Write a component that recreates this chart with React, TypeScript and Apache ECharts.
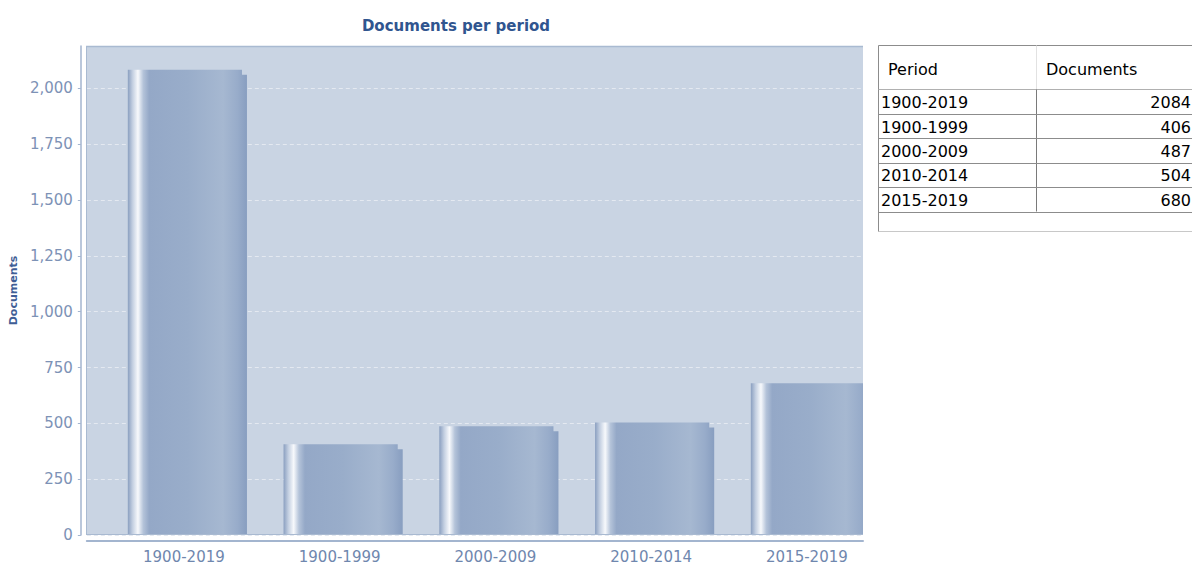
import React, { useEffect, useRef } from "react";
import * as echarts from "echarts";

const categories = ["1900-2019", "1900-1999", "2000-2009", "2010-2014", "2015-2019"];
const documents = [2084, 406, 487, 504, 680];
const tableHeader = ["Period", "Documents"];
const yMax = 2190;
const yInterval = 250;

const PLOT_LEFT = 86;
const PLOT_TOP = 46;
const PLOT_W = 777;
const PLOT_H = 489;
const PLOT_RIGHT = PLOT_LEFT + PLOT_W;

const FONT = "DejaVu Sans";

function buildTable(): any[] {
  const left = 878.5;
  const top = 45.5;
  const col2 = 1036.5;
  const headerH = 44;
  const rowH = 24.4;
  const right = 1200;
  const els: any[] = [];
  const bodyTop = top + headerH;
  const bodyBottom = bodyTop + rowH * categories.length;
  const tableBottom = bodyBottom + 20;
  els.push({
    type: "rect",
    shape: { x: left, y: top, width: right - left, height: tableBottom - top },
    style: { fill: "#ffffff", stroke: "#8c8c8c", lineWidth: 1 },
  });
  els.push({
    type: "line",
    shape: { x1: col2, y1: top, x2: col2, y2: bodyTop },
    style: { stroke: "#e2e2e2", lineWidth: 1 },
  });
  els.push({
    type: "line",
    shape: { x1: left, y1: bodyTop, x2: right, y2: bodyTop },
    style: { stroke: "#b0b0b0", lineWidth: 1 },
  });
  els.push({
    type: "line",
    shape: { x1: col2, y1: bodyTop, x2: col2, y2: bodyBottom },
    style: { stroke: "#7a7a7a", lineWidth: 1 },
  });
  categories.forEach((c, i) => {
    const y1 = bodyTop + rowH * (i + 1);
    els.push({
      type: "line",
      shape: { x1: left, y1: Math.round(y1) + 0.5, x2: right, y2: Math.round(y1) + 0.5 },
      style: { stroke: "#8c8c8c", lineWidth: 1 },
    });
    const cy = bodyTop + rowH * (i + 0.5) + 1;
    els.push({
      type: "text",
      x: 881,
      y: cy,
      style: { text: c, fill: "#000", font: `16px '${FONT}'`, align: "left", verticalAlign: "middle" },
    });
    els.push({
      type: "text",
      x: 1191,
      y: cy,
      style: { text: String(documents[i]), fill: "#000", font: `16px '${FONT}'`, align: "right", verticalAlign: "middle" },
    });
  });
  els.push({
    type: "line",
    shape: { x1: left, y1: tableBottom, x2: right, y2: tableBottom },
    style: { stroke: "#c8c8c8", lineWidth: 1 },
  });
  els.push({
    type: "text",
    x: 888,
    y: top + headerH / 2 + 2,
    style: { text: tableHeader[0], fill: "#000", font: `16px '${FONT}'`, align: "left", verticalAlign: "middle" },
  });
  els.push({
    type: "text",
    x: 1046,
    y: top + headerH / 2 + 2,
    style: { text: tableHeader[1], fill: "#000", font: `16px '${FONT}'`, align: "left", verticalAlign: "middle" },
  });
  return els;
}

function plotBorders(): any[] {
  const c = "#a9bad1";
  const t = PLOT_TOP + 0.5;
  const b = PLOT_TOP + PLOT_H - 0.5;
  const l = PLOT_LEFT + 0.5;
  return [
    { type: "line", z: 50, shape: { x1: PLOT_LEFT, y1: t, x2: PLOT_RIGHT, y2: t }, style: { stroke: c, lineWidth: 1.5 } },
    { type: "line", z: 50, shape: { x1: l, y1: PLOT_TOP, x2: l, y2: PLOT_TOP + PLOT_H }, style: { stroke: c, lineWidth: 1 } },
    { type: "line", z: 50, shape: { x1: PLOT_LEFT, y1: b, x2: PLOT_RIGHT, y2: b }, style: { stroke: c, lineWidth: 1 } },
  ];
}

export default function App() {
  const ref = useRef<HTMLDivElement>(null);
  useEffect(() => {
    document.body.style.margin = "0";
    const chart = echarts.init(ref.current!, undefined, { renderer: "svg" });
    const option: any = {
      animation: false,
      grid: [
        {
          left: PLOT_LEFT,
          top: PLOT_TOP,
          width: PLOT_W,
          height: PLOT_H,
          show: true,
          backgroundColor: "#c9d4e3",
          borderWidth: 0,
        },
        {
          left: 106,
          top: PLOT_TOP,
          width: 778.75,
          height: PLOT_H,
          show: false,
        },
      ],
      xAxis: [
        {
          gridIndex: 0,
          type: "value",
          min: 0,
          max: 1,
          offset: 6,
          axisLine: { show: true, onZero: false, lineStyle: { color: "#a3b5cf", width: 2 } },
          axisTick: { show: false },
          axisLabel: { show: false },
          splitLine: { show: false },
        },
        {
          gridIndex: 1,
          type: "category",
          data: categories,
          offset: 6,
          axisLine: { show: false, onZero: false },
          axisTick: { show: false },
          axisLabel: { color: "#6f87ae", fontSize: 15, fontFamily: FONT, margin: 8 },
          splitLine: { show: false },
        },
      ],
      yAxis: [
        {
          gridIndex: 0,
          type: "value",
          min: 0,
          max: yMax,
          interval: yInterval,
          offset: 6,
          name: "Documents",
          nameLocation: "middle",
          nameRotate: 90,
          nameGap: 58,
          nameTextStyle: { color: "#3f5e96", fontSize: 11, fontWeight: "bold", fontFamily: FONT },
          axisLine: { show: true, onZero: false, lineStyle: { color: "#a3b5cf", width: 1.5 } },
          axisTick: { show: true, length: 3, lineStyle: { color: "#a3b5cf" } },
          axisLabel: {
            color: "#7d92b6",
            fontSize: 15,
            fontFamily: FONT,
            margin: 8,
            showMaxLabel: false,
            formatter: (v: number) => (v % yInterval === 0 ? v.toLocaleString("en-US") : ""),
          },
          splitLine: { show: true, lineStyle: { color: "#e4e9f1", type: [4, 3], width: 1 } },
        },
        {
          gridIndex: 1,
          type: "value",
          min: 0,
          max: yMax,
          show: false,
          splitLine: { show: false },
        },
      ],
      series: [
        {
          type: "custom",
          coordinateSystem: "cartesian2d",
          xAxisIndex: 1,
          yAxisIndex: 1,
          clip: false,
          encode: { x: 0, y: 1 },
          data: categories.map((c, i) => [i, documents[i]]),
          renderItem: (params: any, api: any) => {
            const idx = api.value(0);
            const val = api.value(1);
            const topPt = api.coord([idx, val]);
            const basePt = api.coord([idx, 0]);
            const band = api.size([1, 0])[0];
            const left = topPt[0] - band * 0.36;
            const right = topPt[0] + band * 0.405;
            const stepW = band * 0.032;
            const drop = 5;
            const cx = (x: number) => Math.min(x, PLOT_RIGHT);
            const y0 = basePt[1];
            const y1 = topPt[1];
            const pts = [
              [cx(left), y0],
              [cx(left), y1],
              [cx(right - stepW), y1],
              [cx(right - stepW), y1 + drop],
              [cx(right), y1 + drop],
              [cx(right), y0],
            ];
            return {
              type: "polygon",
              shape: { points: pts },
              style: {
                fill: new echarts.graphic.LinearGradient(
                  left,
                  0,
                  right,
                  0,
                  [
                    { offset: 0, color: "#8a9fc0" },
                    { offset: 0.04, color: "#c3cfe1" },
                    { offset: 0.085, color: "#f7f9fc" },
                    { offset: 0.13, color: "#b4c3d9" },
                    { offset: 0.18, color: "#94a8c7" },
                    { offset: 0.5, color: "#99adca" },
                    { offset: 0.8, color: "#a6b8d1" },
                    { offset: 0.92, color: "#98acca" },
                    { offset: 1, color: "#889ec0" },
                  ],
                  true
                ),
              },
            };
          },
        },
      ],
      graphic: [
        {
          type: "text",
          x: 456,
          y: 26,
          style: {
            text: "Documents per period",
            fill: "#30558f",
            font: `bold 15px '${FONT}'`,
            align: "center",
            verticalAlign: "middle",
          },
        },
        ...plotBorders(),
        ...buildTable(),
      ],
    };
    chart.setOption(option);
    return () => chart.dispose();
  }, []);
  return <div ref={ref} style={{ width: 1192, height: 566 }} />;
}
